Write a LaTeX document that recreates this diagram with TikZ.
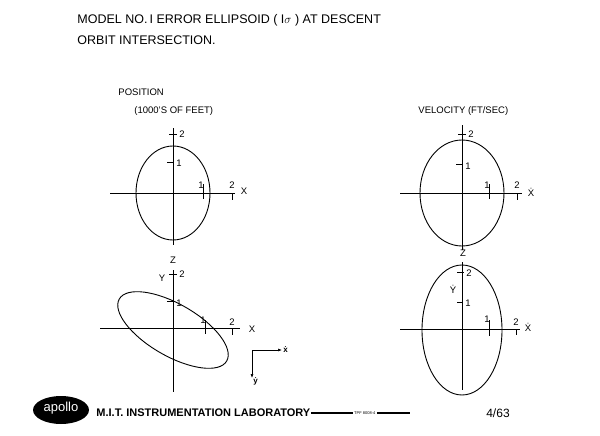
\documentclass[tikz,border=0pt]{standalone}
\usepackage{fontspec}
\setmainfont{Liberation Sans}
\usetikzlibrary{positioning, arrows.meta}

\begin{document}
\begin{tikzpicture}[x=1pt, y=-1pt, line width=0.9pt,
  lbl/.style={font=\fontsize{9.5}{10}\selectfont, inner sep=1pt},
  ttl/.style={font=\fontsize{12.5}{13}\selectfont, anchor=west, inner sep=0pt}]
\useasboundingbox (0,0) rectangle (600,436);

% titles
\node[ttl] (title1) at (77,20) {MODEL NO.\,I ERROR ELLIPSOID ( I$\sigma$ ) AT DESCENT};
\node[ttl] (title2) at (77,40) {ORBIT INTERSECTION.};
\node[lbl, anchor=west] (pos) at (117,92) {POSITION};
\node[lbl, anchor=west] (posu) at (133,111) {(1000'S OF FEET)};
\node[lbl, anchor=west] (vel) at (417,111) {VELOCITY (FT/SEC)};

% position, x-z
\draw (110,193) -- (235,193);
\draw (173,128) -- (173,245);
\draw (173,193) ellipse (37 and 47);
\draw (169,134) -- (177,134); \node[lbl, anchor=west] (pz2) at (178,134) {2};
\draw (167,162) -- (173,162); \node[lbl, anchor=west] (pz1) at (175,163) {1};
\draw (203,184) -- (203,199); \node[lbl] (px1) at (201,185) {1};
\draw (232,193) -- (232,200); \node[lbl] (px2) at (232,185) {2};
\node[lbl] (pxx) at (244,191) {X};
\node[lbl] (pzz) at (173,260) {Z};

% position, x-y
\draw (100,328) -- (240,328);
\draw (173,270) -- (173,392);
\draw[rotate around={-30:(173,330)}] (173,330) ellipse (62 and 26);
\draw (169,274) -- (177,274); \node[lbl, anchor=west] (py2) at (178,274) {2};
\draw (167,301) -- (173,301); \node[lbl, anchor=west] (py1) at (175,303) {1};
\draw (205,320) -- (205,334); \node[lbl] (px1b) at (203,320) {1};
\draw (232,328) -- (232,335); \node[lbl] (px2b) at (232,322) {2};
\node[lbl] (pyy) at (162,278) {Y};
\node[lbl] (pxxb) at (252,329) {X};

% sign convention
\coordinate (o) at (252,350);
\coordinate (oxd) at (282,350);
\coordinate (oyd) at (252,378);
\draw[line width=0.6pt, -{Latex[length=4pt]}] (o) -- (oxd);
\draw[line width=0.6pt, -{Latex[length=4pt]}] (o) -- (oyd);
\node[lbl, anchor=west, font=\fontsize{8}{9}\bfseries\selectfont] (lxd) at (oxd) {\.{x}};
\node[lbl, anchor=west, font=\fontsize{8}{9}\bfseries\selectfont] (lyd) at ([yshift=-3]oyd) {\.{y}};

% velocity, x-z
\draw (400,193) -- (522,193);
\draw (462,125) -- (462,250);
\draw (462,193) ellipse (42 and 53);
\draw (458,134) -- (466,134); \node[lbl, anchor=west] (vz2) at (467,134) {2};
\draw (456,164) -- (462,164); \node[lbl, anchor=west] (vz1) at (464,166) {1};
\draw (489,184) -- (489,199); \node[lbl] (vx1) at (487,185) {1};
\draw (517,193) -- (517,200); \node[lbl] (vx2) at (517,185) {2};
\node[lbl] (vxx) at (531,192) {\.{X}};

% velocity, x-y-z
\draw (400,329) -- (520,329);
\draw (462,262) -- (462,390);
\draw (462,330) ellipse (40 and 65);
\draw (457,272) -- (464,272); \node[lbl, anchor=west] (vz2b) at (465,273) {2};
\draw (457,302) -- (462,302); \node[lbl, anchor=west] (vz1b) at (464,303) {1};
\draw (489,320) -- (489,336); \node[lbl] (vx1b) at (487,319) {1};
\draw (516,329) -- (516,335); \node[lbl] (vx2b) at (516,322) {2};
\node[lbl] (vzz) at (463,252) {\.{Z}};
\node[lbl] (vyy) at (453,289) {\.{Y}};
\node[lbl] (vxxb) at (528,327) {\.{X}};

% footer
\fill (61,410) ellipse (28 and 14);
\node[text=white, font=\fontsize{13}{14}\selectfont] (apollo) at (61,408) {apollo};
\node[ttl, font=\fontsize{11}{12}\bfseries\selectfont] (mit) at (96,413) {M.I.T. INSTRUMENTATION LABORATORY};
\draw[line width=1.4pt] (mit.east) -- ++(42,0) coordinate (l1);
\node[anchor=west, font=\fontsize{4}{5}\selectfont, inner sep=1pt] (tpf) at (l1) {TPF 8008-4};
\draw[line width=1.4pt] (tpf.east) -- ++(33,0);
\node[font=\fontsize{12}{13}\selectfont] (date) at (498,413) {4/63};
\end{tikzpicture}
\end{document}
